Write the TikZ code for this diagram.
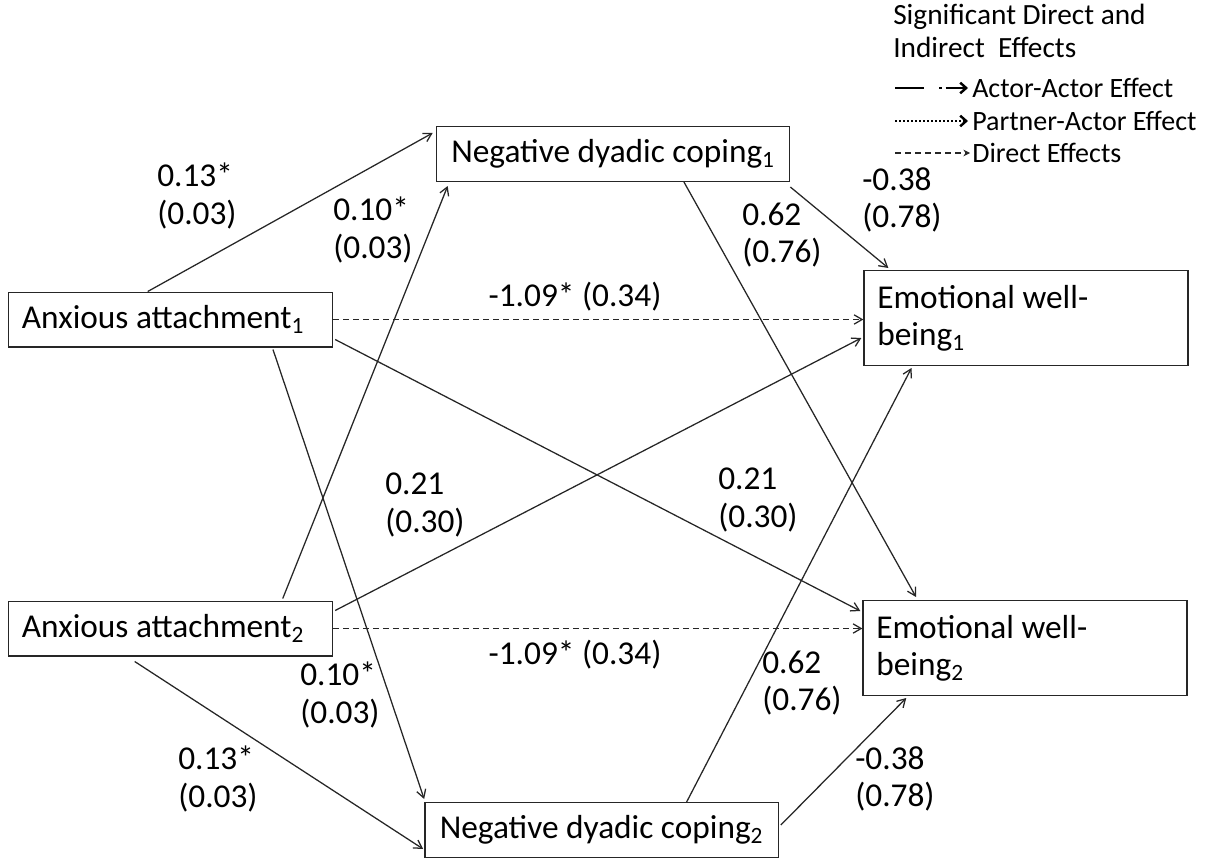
\documentclass[tikz,border=0pt]{standalone}
\usepackage{fontspec}
\setmainfont{Carlito}
\usetikzlibrary{arrows.meta,positioning,calc}
\newcommand{\varfont}{\fontsize{25}{28}\selectfont}
\newcommand{\keyfont}{\fontsize{21}{25}\selectfont}
\tikzset{
  var/.style={rectangle, draw=black!85, line width=1pt, inner xsep=10pt,
              inner ysep=2pt, minimum height=41pt, font=\varfont},
  varleft/.style={var, text width=223pt, align=flush left},
  coef/.style={font=\varfont, align=flush left, anchor=west, inner sep=0pt},
  arrow/.style={-{Straight Barb[length=6pt, width=7pt]}, line width=0.95pt, black!85},
  darrow/.style={arrow, dash pattern=on 4.5pt off 3pt},
  keyarrow/.style={line width=1.6pt, -{Straight Barb[length=4.5pt, width=8pt, line width=1.8pt]}},
}
\begin{document}
\begin{tikzpicture}[x=0.75pt, y=-0.75pt]
\useasboundingbox (0,0) rectangle (1209,860);

% -------------------- Variables --------------------
\node[varleft] (anx1) at (170.5,319.5) {Anxious attachment\textsubscript{1}};
\node[varleft] (anx2) at (170.5,628.5) {Anxious attachment\textsubscript{2}};
\node[var, minimum width=265pt] (ndc1) at (613,154) {Negative dyadic coping\textsubscript{1}};
\node[var, minimum width=265pt] (ndc2) at (601.5,830) {Negative dyadic coping\textsubscript{2}};
\node[varleft, minimum height=71pt] (ewb1) at (1026,318) {Emotional well-\\being\textsubscript{1}};
\node[varleft, minimum height=71pt] (ewb2) at (1025,648) {Emotional well-\\being\textsubscript{2}};

% -------------------- Paths to coping --------------------
\draw[arrow] ($(anx1.north west)!0.43!(anx1.north east)$) -- ($(ndc1.north west)+(-3,7)$);
\draw[arrow] ($(anx2.north west)!0.845!(anx2.north east)+(0,-2)$) -- ($(ndc1.south west)+(12,4)$);
\draw[arrow] ($(anx1.south west)!0.815!(anx1.south east)+(0,2)$) -- ($(ndc2.north west)+(0,-3)$);
\draw[arrow] ($(anx2.south west)!0.39!(anx2.south east)+(0,5)$) -- ($(ndc2.south west)+(-1,-9)$);

% -------------------- Direct effects --------------------
\draw[darrow] (anx1.east) -- (anx1.east -| ewb1.west);
\draw[darrow] (anx2.east) -- (anx2.east -| ewb2.west);
\draw[arrow] ($(anx1.south east)+(2,-8)$) -- ($(ewb2.north west)+(-2,11)$);
\draw[arrow] ($(anx2.north east)+(2,10)$) -- ($(ewb1.south west)+(-2,-28)$);

% -------------------- Coping to well-being --------------------
\draw[arrow] ($(ndc1.south west)!0.70!(ndc1.south east)$) -- ($(ewb2.north west)!0.165!(ewb2.north east)+(0,-3)$);
\draw[arrow] ($(ndc1.south east)+(0,5)$) -- ($(ewb1.north west)+(25,-2)$);
\draw[arrow] ($(ndc2.north west)!0.74!(ndc2.north east)$) -- ($(ewb1.south west)!0.148!(ewb1.south east)+(0,2)$);
\draw[arrow] ($(ndc2.north east)+(2,23)$) -- ($(ewb2.south west)!0.135!(ewb2.south east)+(0,2)$);

% -------------------- Coefficients --------------------
\node[coef] (c11) at (157,196) {0.13*\\(0.03)};
\node[coef] (c21) at (333,230) {0.10*\\(0.03)};
\node[coef, anchor=center] (d11) at (575,297) {-1.09* (0.34)};
\node[coef] (n12) at (742,235) {0.62\\(0.76)};
\node[coef] (n11) at (862,200) {-0.38\\(0.78)};
\node[coef] (c-21) at (385,505) {0.21\\(0.30)};
\node[coef] (c-12) at (718,500) {0.21\\(0.30)};
\node[coef, anchor=center] (d22) at (575,655) {-1.09* (0.34)};
\node[coef] (c12) at (300,695) {0.10*\\(0.03)};
\node[coef] (n21) at (762,683) {0.62\\(0.76)};
\node[coef] (c22) at (178,779) {0.13*\\(0.03)};
\node[coef] (n22) at (855,779) {-0.38\\(0.78)};

% legend
\node[font=\fontsize{22}{25}\selectfont, align=flush left, anchor=north west, inner sep=0pt] (keyhead) at (893,4)
  {Significant Direct and\\Indirect\ \ Effects};
\node[font=\keyfont, anchor=west, inner sep=0pt] (keyaa) at (972,88) {Actor-Actor Effect};
\node[font=\keyfont, anchor=west, inner sep=0pt] (keypa) at (972,121) {Partner-Actor Effect};
\node[font=\keyfont, anchor=west, inner sep=0pt] (keyde) at (972,153) {Direct Effects};
\coordinate (kaa) at (895,88);
\coordinate (kpa) at (895,121);
\coordinate (kde) at (895,153);
\draw[keyarrow, dash pattern=on 22pt off 11pt on 2pt off 3pt] (kaa) -- ($(keyaa.west)+(-4,0)$);
\draw[keyarrow, dash pattern=on 1.5pt off 1.5pt] (kpa) -- ($(keypa.west)+(-4,0)$);
\draw[darrow, -{Stealth[length=5pt, width=5pt]}] (kde) -- ($(keyde.west)+(-2,0)$);

\end{tikzpicture}
\end{document}
